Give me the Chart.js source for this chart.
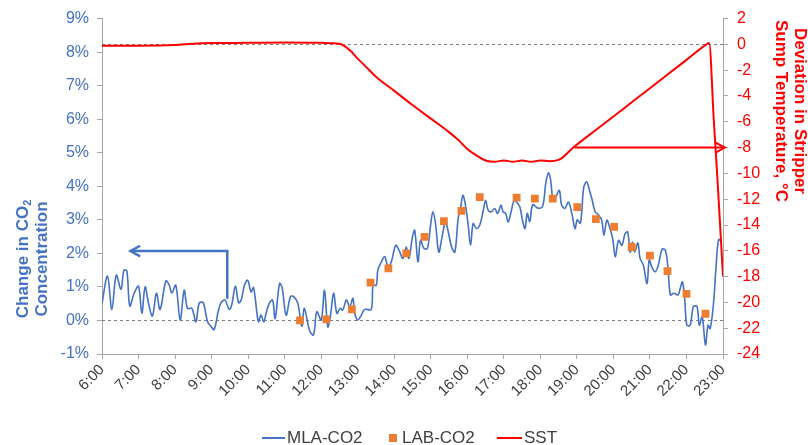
<!DOCTYPE html>
<html>
<head>
<meta charset="utf-8">
<script src="https://cdn.jsdelivr.net/npm/chart.js@4.4.1/dist/chart.umd.min.js"></script>
<style>
  html, body { margin: 0; padding: 0; background: #fff; }
  #wrap { width: 808px; height: 445px; }
</style>
</head>
<body>
<div id="wrap"><canvas id="chart" width="808" height="445"></canvas></div>
<script>
// ---- data (hours of day, % change / deg C) ----
const mlaTimes = [
  6.00,6.15,6.27,6.39,6.52,6.60,6.68,6.76,6.88,7.00,7.09,7.18,7.27,7.38,7.49,7.59,7.75,7.84,7.91,8.02,8.14,8.25,8.34,8.46,8.57,8.66,8.77,
  8.89,8.98,9.07,9.18,9.26,9.37,9.48,9.55,9.65,9.74,9.81,9.90,9.99,10.08,10.15,10.28,10.35,10.43,10.49,10.58,10.67,10.74,10.86,10.93,11.04,11.16,11.25,11.36,11.47,11.54,11.68,
  11.79,11.88,12.00,12.09,12.18,12.25,12.34,12.43,12.52,12.59,12.69,12.78,12.87,12.91,13.00,13.10,13.19,13.37,13.42,13.51,13.55,13.65,13.74,13.83,13.92,14.04,14.13,14.24,14.33,14.40,14.50,14.56,
  14.65,14.72,14.81,14.91,15.00,15.06,15.13,15.22,15.31,15.40,15.47,15.57,15.66,15.75,15.82,15.88,15.95,16.02,16.09,16.16,16.25,16.34,16.43,16.50,16.57,16.66,16.75,16.83,16.92,16.98,17.05,17.12,17.21,17.28,17.35,17.44,
  17.51,17.58,17.64,17.71,17.79,17.93,18.06,18.15,18.22,18.28,18.35,18.43,18.52,18.58,18.67,18.77,18.86,18.95,19.01,19.09,19.13,19.19,19.27,19.34,19.41,19.50,19.59,19.68,19.74,19.82,19.89,19.98,20.05,20.14,20.23,
  20.32,20.39,20.46,20.52,20.58,20.67,20.73,20.82,20.92,20.98,21.05,21.14,21.23,21.33,21.42,21.49,21.56,21.65,21.77,21.83,21.89,21.95,22.01,22.10,22.19,22.29,22.35,22.43,22.52,22.59,22.65,22.74,22.81,22.88,22.97
];
const mlaValues = [
  0.51,1.32,0.33,1.35,0.93,1.50,1.48,0.43,0.81,1.02,0.21,1.00,0.53,0.13,0.81,0.33,1.18,1.05,0.82,1.05,0.01,0.90,0.36,0.36,-0.04,0.51,0.53,
  -0.04,-0.17,-0.27,0.26,0.53,0.61,0.33,0.46,1.02,0.53,0.61,1.05,1.20,0.85,0.98,-0.04,0.16,-0.04,0.21,0.51,0.61,0.06,1.10,0.98,0.16,0.71,0.71,0.51,-0.17,0.36,-0.29,
  -0.43,0.26,0.01,0.90,-0.19,0.11,0.81,0.21,0.36,0.31,0.61,0.41,0.66,0.26,0.01,0.16,0.33,0.33,1.05,1.05,1.50,1.75,1.90,1.60,1.75,2.24,2.10,1.85,2.19,1.85,2.49,2.69,
  1.75,2.39,2.15,2.15,2.89,3.24,2.89,2.04,2.49,2.94,2.69,2.19,2.04,3.04,3.38,3.73,3.43,2.89,2.24,2.89,2.74,2.84,3.24,3.58,3.29,3.24,3.34,3.19,3.43,3.24,3.19,2.94,3.29,3.58,3.53,3.38,
  2.99,2.74,3.19,2.95,3.45,3.35,3.40,4.10,4.40,4.20,3.58,3.70,3.88,3.45,3.34,3.53,3.20,2.74,3.00,2.90,3.20,3.98,4.13,3.90,3.63,3.24,3.15,2.99,2.54,2.99,2.80,2.44,1.90,2.39,2.24,
  2.59,2.64,2.04,2.34,2.04,2.31,1.85,1.65,1.10,1.80,1.60,1.45,1.65,2.12,2.10,1.60,0.76,0.81,0.76,0.96,1.15,0.66,-0.14,-0.14,0.41,0.41,-0.14,0.11,-0.73,-0.14,-0.24,0.51,1.60,2.41,2.34
];

const labTimes  = [11.42,12.14,12.84,13.35,13.84,14.33,14.83,15.36,15.84,16.34,17.35,17.85,18.34,19.01,19.52,20.02,20.50,21.00,21.48,22.00,22.52];
const labValues = [0.00,0.03,0.33,1.13,1.55,2.00,2.49,2.96,3.27,3.68,3.66,3.63,3.63,3.38,3.02,2.79,2.19,1.93,1.47,0.79,0.20];

const sstTimes  = [6.0,7.0,8.0,8.5,9.0,10.0,11.0,12.0,12.5,12.65,12.8,13.0,13.25,13.5,14.0,14.5,15.0,15.5,15.75,16.0,16.25,16.5,16.75,17.0,17.25,17.5,17.75,18.0,18.25,18.5,18.6,18.75,18.9,19.5,20.0,20.5,21.0,21.5,22.0,22.5,22.62,22.75,22.85,23.0];
const sstValues = [-0.10,-0.10,-0.05,0.05,0.10,0.12,0.15,0.12,0.05,-0.15,-0.50,-1.10,-1.80,-2.50,-3.60,-4.70,-5.75,-6.80,-7.40,-8.10,-8.60,-9.00,-9.10,-9.00,-9.10,-9.00,-9.10,-9.00,-9.05,-8.95,-8.80,-8.40,-8.00,-6.68,-5.59,-4.49,-3.40,-2.30,-1.20,-0.10,0.10,-6.00,-10.50,-18.00];

const xTickHours = [6,7,8,9,10,11,12,13,14,15,16,17,18,19,20,21,22,23];

// annotation arrows (data coords)
const co2Arrow = [[9.43, 0.65], [9.43, 2.07], [6.78, 2.07]];
const sstArrow = [[18.93, -8.0], [23.05, -8.0]];

const BLUE = '#4472C4';
const RED = '#FF0000';
const ORANGE = '#ED7D31';
const AXIS = '#A6A6A6';
const FONT = '"Liberation Sans", Arial, sans-serif';

Chart.defaults.font.family = FONT;

const zip = (xs, ys) => xs.map((x, i) => ({ x: x, y: ys[i] }));

function drawArrow(ctx, pts, color, width, head) {
  ctx.save();
  ctx.strokeStyle = color;
  ctx.lineWidth = width;
  ctx.lineJoin = 'miter';
  ctx.beginPath();
  pts.forEach((p, i) => i ? ctx.lineTo(p[0], p[1]) : ctx.moveTo(p[0], p[1]));
  ctx.stroke();
  const a = pts[pts.length - 2], b = pts[pts.length - 1];
  const ang = Math.atan2(b[1] - a[1], b[0] - a[0]);
  ctx.beginPath();
  ctx.moveTo(b[0] - head * Math.cos(ang - 0.5), b[1] - head * Math.sin(ang - 0.5));
  ctx.lineTo(b[0], b[1]);
  ctx.lineTo(b[0] - head * Math.cos(ang + 0.5), b[1] - head * Math.sin(ang + 0.5));
  ctx.stroke();
  ctx.restore();
}

const overlay = {
  id: 'overlay',
  beforeDatasetsDraw(chart) {
    const { ctx, chartArea: a, scales } = chart;
    ctx.save();
    ctx.strokeStyle = '#7F7F7F';
    ctx.lineWidth = 1;
    ctx.setLineDash([3, 3]);
    [scales.y.getPixelForValue(0), scales.y2.getPixelForValue(0)].forEach(py => {
      const yy = Math.round(py) + 0.5;
      ctx.beginPath();
      ctx.moveTo(a.left, yy);
      ctx.lineTo(a.right, yy);
      ctx.stroke();
    });
    ctx.restore();
  },
  afterDatasetsDraw(chart) {
    const { ctx, scales: { x, y, y2 } } = chart;
    drawArrow(ctx, co2Arrow.map(p => [x.getPixelForValue(p[0]), y.getPixelForValue(p[1])]), BLUE, 2.5, 11);
    drawArrow(ctx, sstArrow.map(p => [x.getPixelForValue(p[0]), y2.getPixelForValue(p[1])]), RED, 2, 11);
  },
  afterDraw(chart) {
    const ctx = chart.ctx;
    ctx.save();
    // left axis title, with subscript 2
    ctx.fillStyle = BLUE;
    ctx.textBaseline = 'middle';
    ctx.translate(23, 259);
    ctx.rotate(-Math.PI / 2);
    ctx.font = 'bold 17px ' + FONT;
    const w1 = ctx.measureText('Change in CO').width;
    ctx.font = 'bold 11px ' + FONT;
    const w2 = ctx.measureText('2').width;
    const s = -(w1 + w2) / 2;
    ctx.font = 'bold 17px ' + FONT;
    ctx.textAlign = 'left';
    ctx.fillText('Change in CO', s, 0);
    ctx.font = 'bold 11px ' + FONT;
    ctx.fillText('2', s + w1, 5);
    ctx.font = 'bold 17px ' + FONT;
    ctx.textAlign = 'center';
    ctx.fillText('Concentration', 0, 19);
    ctx.restore();

    // right axis title
    ctx.save();
    ctx.fillStyle = RED;
    ctx.textBaseline = 'middle';
    ctx.textAlign = 'center';
    ctx.font = 'bold 17px ' + FONT;
    ctx.translate(800, 111);
    ctx.rotate(Math.PI / 2);
    ctx.fillText('Deviation in Stripper', 0, 0);
    ctx.fillText('Sump Temperature, \u00B0C', 0, 19);
    ctx.restore();

    // legend
    ctx.save();
    const ly = 438;
    ctx.font = '17px ' + FONT;
    ctx.fillStyle = '#404040';
    ctx.textBaseline = 'middle';
    ctx.textAlign = 'left';
    const ds = chart.data.datasets;
    ctx.lineWidth = 2;
    ctx.strokeStyle = BLUE;
    ctx.beginPath(); ctx.moveTo(262, ly); ctx.lineTo(285, ly); ctx.stroke();
    ctx.fillText(ds[0].label, 287, ly);
    ctx.fillStyle = ORANGE;
    ctx.fillRect(389, ly - 4, 8, 8);
    ctx.fillStyle = '#404040';
    ctx.fillText(ds[1].label, 402, ly);
    ctx.strokeStyle = RED;
    ctx.beginPath(); ctx.moveTo(497, ly); ctx.lineTo(522, ly); ctx.stroke();
    ctx.fillText(ds[2].label, 524, ly);
    ctx.restore();
  }
};

new Chart(document.getElementById('chart'), {
  type: 'line',
  data: {
    datasets: [
      {
        label: 'MLA-CO2',
        data: zip(mlaTimes, mlaValues),
        yAxisID: 'y',
        borderColor: BLUE,
        borderWidth: 1.6,
        pointRadius: 0,
        tension: 0.35,
        order: 2
      },
      {
        label: 'LAB-CO2',
        data: zip(labTimes, labValues),
        yAxisID: 'y',
        showLine: false,
        pointStyle: 'rect',
        pointRadius: 5.5,
        pointBackgroundColor: ORANGE,
        pointBorderColor: ORANGE,
        pointBorderWidth: 0,
        order: 0
      },
      {
        label: 'SST',
        data: zip(sstTimes, sstValues),
        yAxisID: 'y2',
        borderColor: RED,
        borderWidth: 2,
        pointRadius: 0,
        cubicInterpolationMode: 'monotone',
        order: 1
      }
    ]
  },
  options: {
    responsive: false,
    animation: false,
    layout: { padding: { top: 18, left: 0, right: 0, bottom: 0 } },
    plugins: { legend: { display: false }, tooltip: { enabled: false } },
    scales: {
      x: {
        type: 'linear',
        min: 6,
        max: 23,
        afterBuildTicks: s => { s.ticks = xTickHours.map(v => ({ value: v })); },
        ticks: {
          autoSkip: false,
          minRotation: 45,
          maxRotation: 45,
          color: '#404040',
          font: { size: 15 },
          padding: 2,
          callback: v => v + ':00'
        },
        grid: { drawOnChartArea: false, color: AXIS, tickLength: 5 },
        border: { color: AXIS },
        afterFit: s => { s.height = 91; }
      },
      y: {
        position: 'left',
        min: -1,
        max: 9,
        ticks: { stepSize: 1, color: BLUE, font: { size: 16 }, padding: 8, callback: v => v + '%' },
        grid: { drawOnChartArea: false, color: AXIS, tickLength: 5 },
        border: { color: AXIS },
        afterFit: s => { s.width = 102; }
      },
      y2: {
        position: 'right',
        min: -24,
        max: 2,
        ticks: { stepSize: 2, color: RED, font: { size: 16 }, padding: 9 },
        grid: { drawOnChartArea: false, color: AXIS, tickLength: 5 },
        border: { color: AXIS },
        afterFit: s => { s.width = 85; }
      }
    }
  },
  plugins: [overlay]
});
</script>
</body>
</html>
